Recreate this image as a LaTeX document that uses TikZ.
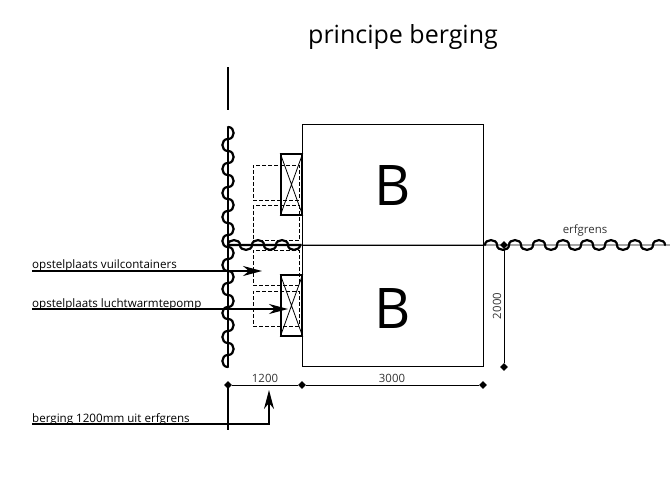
\documentclass[tikz,border=0pt]{standalone}
\usepackage{fontspec}
\setmainfont{Open Sans}
\usetikzlibrary{positioning,arrows.meta,shapes.geometric}
\tikzset{
  wave/.style={line width=2.2pt,line cap=round},
  wall/.style={line width=2.2pt},
  leader/.style={line width=1.7pt},
  pijl/.style={leader,-{Stealth[length=19pt,width=10pt,inset=6pt]}},
  thin line/.style={line width=0.8pt},
  dim/.style={line width=0.6pt},
  dot/.style={diamond,aspect=1,fill=black,inner sep=0pt,minimum size=8pt},
  blok/.style={draw,line width=0.9pt,inner sep=0pt,minimum width=181pt,minimum height=121pt},
  unit/.style={draw,line width=1.6pt,inner sep=0pt,minimum width=21pt,minimum height=61pt},
  plek/.style={draw,dash pattern=on 4pt off 2pt,line width=0.7pt,inner sep=0pt,minimum width=46pt,minimum height=35pt},
  letter/.style={font=\fontsize{56}{56}\selectfont,inner sep=0pt},
  label/.style={font=\fontsize{11.6}{12}\selectfont,inner sep=0pt,anchor=base west},
  maat/.style={font=\fontsize{11.4}{12}\selectfont,text=black!80,inner sep=0pt}
}
\begin{document}
\begin{tikzpicture}[x=1pt,y=-1pt]
\useasboundingbox (0,0) rectangle (670,482);
\node[font=\fontsize{25}{26}\selectfont,inner sep=0pt] (titel) at (403,37) {principe berging};
% bergingen
\node[blok] (bovenB) at (392.5,185) {};
\node[blok] (onderB) at (392.5,306) {};
\node[letter] (letterA) at (393,186) {B};
\node[letter] (letterB) at (393,309) {B};
% opstelplaatsen
\node[plek] (plekA) at (276,182.5) {};
\node[plek] (plekB) at (276,223) {};
\node[plek] (plekC) at (276,267.5) {};
\node[plek] (plekD) at (276,308.5) {};
% warmtepompen
\node[unit] (unitA) at (291.5,184.5) {};
\node[unit] (unitB) at (291.5,305.5) {};
\draw[thin line] (unitA.north west) -- (unitA.south east) (unitA.north east) -- (unitA.south west);
\draw[thin line] (unitB.north west) -- (unitB.south east) (unitB.north east) -- (unitB.south west);
% erfgrens
\coordinate (grensTop) at (228,67);
\coordinate (grensTopEnd) at (228,110);
\coordinate (grensA) at (228,127);
\coordinate (grensB) at (228,367);
\coordinate (grensC) at (228,383);
\coordinate (grensD) at (228,430);
\coordinate (hoek) at (228,245);
\coordinate (rechtsA) at (485,245);
\coordinate (rechtsB) at (670,245);
\draw[wall] (grensTop) -- (grensTopEnd);
\draw[wall] (grensA) -- (grensB);
\draw[wall] (grensC) -- (grensD);
\begin{scope}[shift={(grensA)}]
\foreach \i [evaluate=\i as \a using \i*12, evaluate=\i as \b using \i*12+12, evaluate=\i as \s using {(-1)^\i*7.5}] in {0,...,19}
  \draw[wave] (0,\a) .. controls (\s,\a) and (\s,\b) .. (0,\b);
\end{scope}
\begin{scope}[shift={(hoek)}]
\foreach \i [evaluate=\i as \a using \i*12, evaluate=\i as \b using \i*12+12, evaluate=\i as \s using {-(-1)^\i*6.5}] in {0,...,5}
  \draw[wave] (\a,0) .. controls (\a,\s) and (\b,\s) .. (\b,0);
\end{scope}
\begin{scope}[shift={(rechtsA)}]
\foreach \i [evaluate=\i as \a using \i*12, evaluate=\i as \b using \i*12+12, evaluate=\i as \s using {-(-1)^\i*6.5}] in {0,...,14}
  \draw[wave] (\a,0) .. controls (\a,\s) and (\b,\s) .. (\b,0);
\end{scope}
\draw[wall] (hoek) -- (onderB.north west);
\draw[thin line] (onderB.north west) -- (rechtsB);
\node[maat,anchor=base] (erfgrens) at (585,233) {erfgrens};
% pijlen
\coordinate (labelA) at (32,271);
\coordinate (labelB) at (32,309);
\coordinate (labelC) at (32,424);
\coordinate (pijlA) at (262,271);
\coordinate (pijlB) at (288,309);
\coordinate (knik) at (269,424);
\coordinate (pijlC) at (269,390);
\draw[pijl] (labelA) -- (pijlA);
\draw[pijl] (labelB) -- (pijlB);
\draw[pijl] (labelC) -- (knik) -- (pijlC);
\node[label] (tekstA) at (32,268.5) {opstelplaats vuilcontainers};
\node[label] (tekstB) at (32,307) {opstelplaats luchtwarmtepomp};
\node[label] (tekstC) at (32,422) {berging 1200mm uit erfgrens};
% maatvoering
\node[dot] (maatA) at (228,385) {};
\node[dot] (maatB) at (302,385) {};
\node[dot] (maatC) at (483,385) {};
\node[dot] (maatD) at (504,245) {};
\node[dot] (maatE) at (504,367) {};
\draw[dim] (maatA) -- (maatB);
\draw[dim] (maatB) -- (maatC);
\draw[thin line] (maatD) -- (maatE);
\node[maat] (tekst1200) at (265,378) {1200};
\node[maat] (tekst3000) at (392,378) {3000};
\node[maat,rotate=90] (tekst2000) at (497,306) {2000};
\end{tikzpicture}
\end{document}
